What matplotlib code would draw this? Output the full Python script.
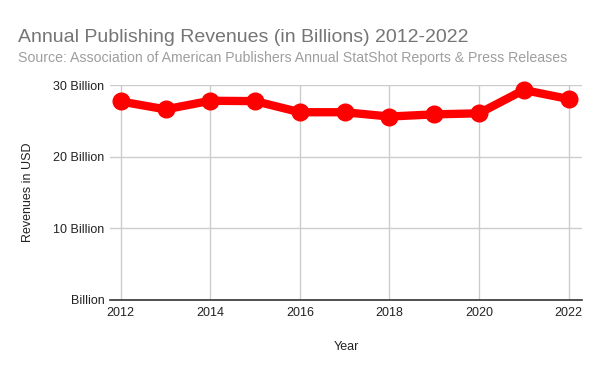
import matplotlib
matplotlib.use("Agg")
import matplotlib.pyplot as plt
from matplotlib.ticker import FuncFormatter

plt.rcParams['font.family'] = ['Liberation Sans', 'DejaVu Sans']

years = [2012, 2013, 2014, 2015, 2016, 2017, 2018, 2019, 2020, 2021, 2022]
revenues = [27.7, 26.6, 27.8, 27.75, 26.2, 26.2, 25.6, 25.9, 26.05, 29.3, 28.05]
y_ticks = [0, 10, 20, 30]
x_ticks = [2012, 2014, 2016, 2018, 2020, 2022]

fig = plt.figure(figsize=(6, 3.71), dpi=100)
ax = fig.add_axes([110/600, 1-300/371, (582-110)/600, (300-85)/371])

ax.plot(years, revenues, color='#ff0000', linewidth=6, marker='o', markersize=12,
        solid_joinstyle='round', clip_on=False, zorder=3)

ax.set_xlim(2011.76, 2022.3)
ax.set_ylim(0, 30)
ax.set_yticks(y_ticks)
ax.yaxis.set_major_formatter(FuncFormatter(lambda v, p: "Billion" if v == 0 else f"{int(v)} Billion"))
ax.set_xticks(x_ticks)
ax.grid(True, color='#cccccc', linewidth=1)
ax.set_axisbelow(True)
for s in ['top', 'right', 'left']:
    ax.spines[s].set_visible(False)
ax.spines['bottom'].set_color('#333333')
ax.spines['bottom'].set_linewidth(1.2)
ax.tick_params(axis='both', length=0, labelsize=9, colors='#222222', pad=5)
ax.tick_params(axis='y', pad=4)

ax.set_xlabel('Year', fontsize=9, color='#222222', labelpad=16)
ax.set_ylabel('Revenues in USD', fontsize=9, color='#222222', labelpad=14)

fig.text(18/600, 1-37/371, 'Annual Publishing Revenues (in Billions) 2012-2022',
         fontsize=14, color='#757575', va='center', ha='left')
fig.text(18/600, 1-58/371, 'Source: Association of American Publishers Annual StatShot Reports & Press Releases',
         fontsize=10.2, color='#9e9e9e', va='center', ha='left')

fig.savefig('out.png', dpi=100)
